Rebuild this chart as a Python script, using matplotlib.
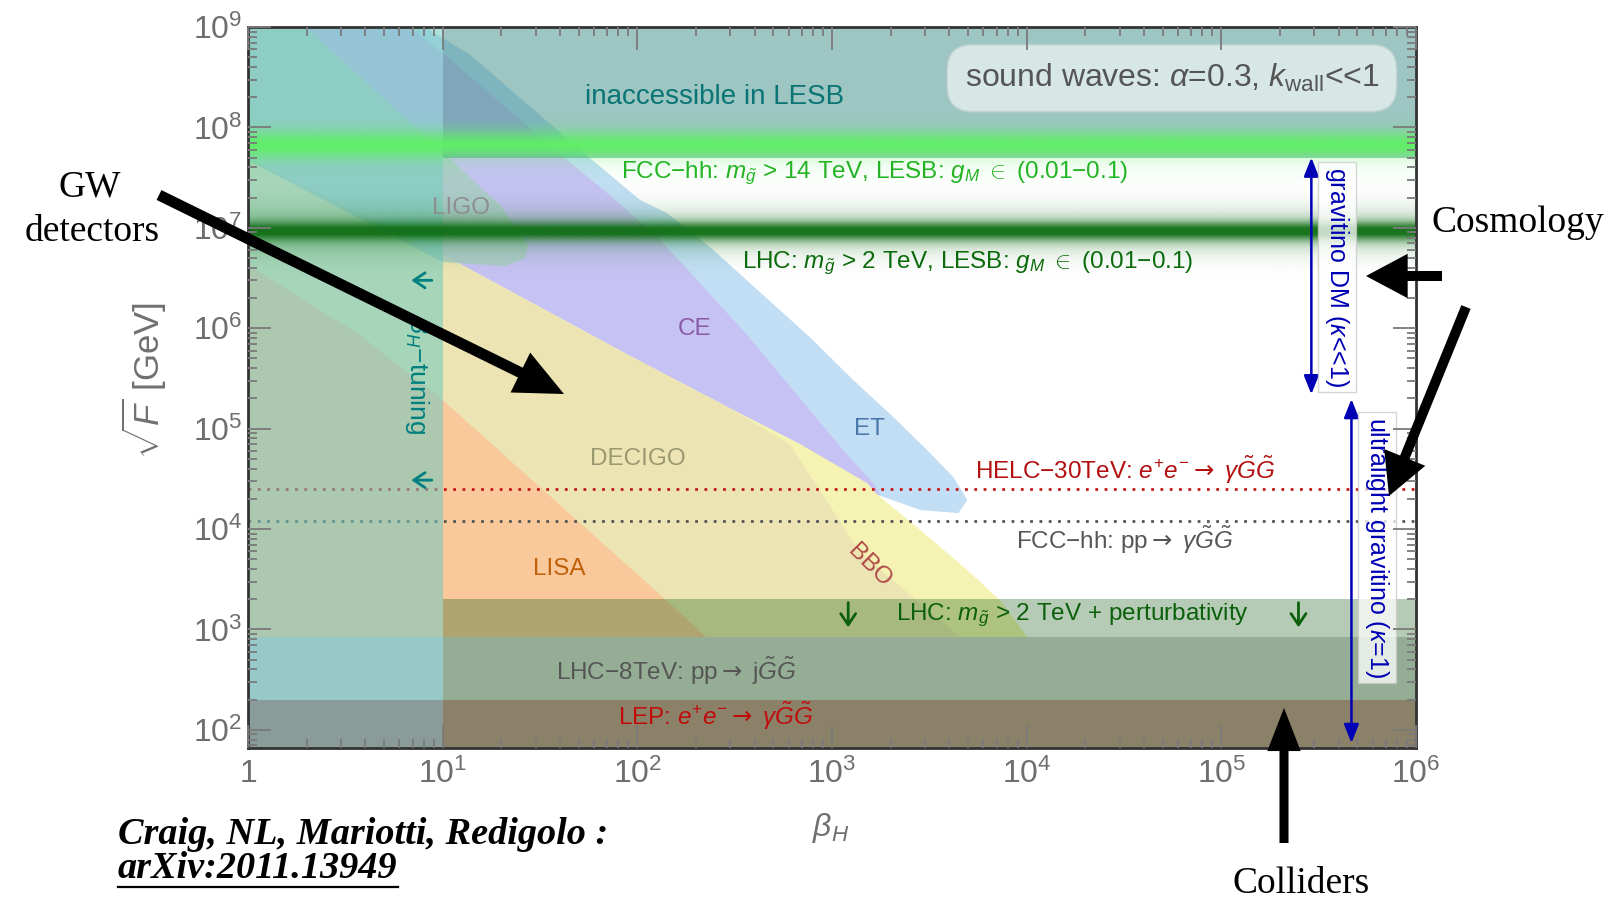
import numpy as np
import matplotlib
matplotlib.use("Agg")
import matplotlib.pyplot as plt
from matplotlib.patches import FancyArrowPatch
from matplotlib.lines import Line2D
from matplotlib.ticker import FixedLocator, LogLocator, NullFormatter

plt.rcParams['font.family'] = ['Liberation Sans', 'DejaVu Sans']
plt.rcParams['mathtext.fontset'] = 'custom'
plt.rcParams['mathtext.rm'] = 'Liberation Sans'
plt.rcParams['mathtext.it'] = 'Liberation Sans:italic'
plt.rcParams['mathtext.bf'] = 'Liberation Sans:bold'
plt.rcParams['mathtext.sf'] = 'DejaVu Sans'

# ---------------- data ----------------
beta_range = [1.0, 1.0e6]
sqrtF_range = [66.0, 1.0e9]

beta_ticks = [1, 1e1, 1e2, 1e3, 1e4, 1e5, 1e6]
beta_ticklabels = ['1', '$10^{1}$', '$10^{2}$', '$10^{3}$', '$10^{4}$', '$10^{5}$', '$10^{6}$']
sqrtF_ticks = [1e2, 1e3, 1e4, 1e5, 1e6, 1e7, 1e8, 1e9]
sqrtF_ticklabels = ['$10^{2}$', '$10^{3}$', '$10^{4}$', '$10^{5}$',
                    '$10^{6}$', '$10^{7}$', '$10^{8}$', '$10^{9}$']

# GW detector reach (beta_H, sqrt(F) [GeV]) outlines
et_beta = [8.1, 13.8, 56, 103, 142, 237, 380, 589, 800, 1285, 2062, 3084, 4196,
           4955, 4453, 2838, 1708, 687, 90, 10, 1.96]
et_sqrtF = [1e9, 5.3e8, 5.1e7, 1.9e7, 1.4e7, 6.4e6, 2.8e6, 1.3e6, 7.6e5, 3.05e5,
            1.31e5, 6.1e4, 3.3e4, 1.95e4, 1.44e4, 1.55e4, 2.2e4, 7.0e4, 5.4e5, 5.7e7, 1e9]

ce_beta = [1.96, 6.8, 10, 41.6, 77, 131, 210, 358, 589, 1142, 1629, 1770, 1590,
           687, 311, 90, 10, 10]
ce_sqrtF = [1e9, 1e9, 5.5e8, 5.1e7, 1.9e7, 7.6e6, 2.8e6, 9.0e5, 2.84e5, 6.1e4,
            2.87e4, 2.2e4, 2.1e4, 7.0e4, 1.53e5, 5.4e5, 5.4e6, 5.7e7]

ligo_beta = [1, 1.96, 10, 19.7, 27.5, 26.5, 20.9, 10, 1]
ligo_sqrtF = [1e9, 1e9, 5.7e7, 1.69e7, 6.7e6, 5.0e6, 4.17e6, 4.56e6, 4.7e7]

decigo_beta = [1, 10, 90, 311, 610, 1396, 4560, 1]
decigo_sqrtF = [4.95e7, 5.4e6, 5.4e5, 1.53e5, 6.9e4, 5.8e3, 840, 840]

bbo_beta = [1, 10, 90, 311, 687, 1517, 1708, 2838, 4955, 7311, 10070, 1]
bbo_sqrtF = [4.95e7, 5.4e6, 5.4e5, 1.53e5, 7.0e4, 2.87e4, 2.2e4, 9.8e3, 3.9e3,
             1.95e3, 840, 840]

lisa_beta = [1, 3.63, 10, 139, 226, 1]
lisa_sqrtF = [4.26e6, 8.96e5, 1.93e5, 2.0e3, 840, 840]

# constraints
beta_tuning = 10.0
lesb_limit = 5.0e7
lep_limit = 2.0e2
lhc8_limit = 8.4e2
lhc_pert_limit = 2.0e3
helc_limit = 2.5e4
fcc_limit = 1.2e4
fcc_glow_center = 6.7e7
lhc_glow_center = 9.3e6

gravitino_dm_beta = 2.9e5
gravitino_dm_range = [5.0e7, 2.2e5]
ultralight_beta = 4.66e5
ultralight_range = [1.97e5, 74.0]

# small direction markers
tuning_arrow_beta = [8.8, 6.9]
tuning_arrow_sqrtF = [3.0e6, 3.07e4]
pert_arrow_beta = [1211, 2.49e5]
pert_arrow_sqrtF = [1.85e3, 1.05e3]

# ---------------- figure ----------------
W, H = 1613, 900
fig = plt.figure(figsize=(W / 100, H / 100), dpi=100)
ax = fig.add_axes([248 / W, 1 - 748 / H, 1168 / W, 721 / H])
ax.set_xscale('log')
ax.set_yscale('log')
ax.set_xlim(beta_range)
ax.set_ylim(sqrtF_range)
ax.set_autoscale_on(False)


def region(bx, fy, color, alpha=1.0, z=1.0):
    ax.fill(bx, fy, facecolor=color, edgecolor='none', alpha=alpha, zorder=z)


region(et_beta, et_sqrtF, '#c2def4', z=1.0)
region(ce_beta, ce_sqrtF, '#c6c2f3', z=1.1)
region(bbo_beta, bbo_sqrtF, '#f5f3b3', z=1.2)
region(decigo_beta, decigo_sqrtF, '#ece5b3', z=1.3)
region(lisa_beta, lisa_sqrtF, '#f9c99b', z=1.4)
region(ligo_beta, ligo_sqrtF, '#aacdc3', alpha=0.85, z=1.5)

# collider band from perturbativity (beta_H > 10 only)
ax.fill_between([beta_tuning, beta_range[1]], lhc8_limit, lhc_pert_limit,
                color='#004f00', alpha=0.29, lw=0, zorder=2.0)
# inaccessible in LESB
ax.fill_between([beta_tuning, beta_range[1]], lesb_limit, sqrtF_range[1],
                color='#3c8c87', alpha=0.5, lw=0, zorder=2.3)

# future collider reach
ax.axhline(helc_limit, color='#c41a1a', lw=2.0, ls=(0, (1.0, 2.35)), zorder=2.5)
ax.axhline(fcc_limit, color='#555555', lw=2.0, ls=(0, (1.0, 2.35)), zorder=2.5)

# beta_H tuning strip
ax.fill_between([beta_range[0], beta_tuning], sqrtF_range[0], sqrtF_range[1],
                color='#6ec8be', alpha=0.55, lw=0, zorder=3)

# existing collider bounds (shaded differently inside the tuning strip)
ax.fill_between([beta_range[0], beta_tuning], lep_limit, lhc8_limit,
                color='#97c9c9', lw=0, zorder=3.1)
ax.fill_between([beta_tuning, beta_range[1]], lep_limit, lhc8_limit,
                color='#95ad95', lw=0, zorder=3.1)
ax.fill_between([beta_range[0], beta_tuning], sqrtF_range[0], lep_limit,
                color='#8a9c9a', lw=0, zorder=3.1)
ax.fill_between([beta_tuning, beta_range[1]], sqrtF_range[0], lep_limit,
                color='#8b8068', lw=0, zorder=3.1)

# glowing gluino-mass lines
ny, nx = 1500, 600
ly = np.linspace(np.log10(sqrtF_range[0]), np.log10(sqrtF_range[1]), ny)[:, None]
lxc = (np.arange(nx) + 0.5) / nx * np.log10(beta_range[1] / beta_range[0])
right = (10 ** lxc >= beta_tuning)[None, :]
lc1 = np.log10(fcc_glow_center)
llim = np.log10(lesb_limit)
a1 = 0.95 * np.exp(-0.5 * ((ly - lc1) / 0.1) ** 2)
a1_right = np.where(ly >= llim, a1, 0.22 * np.exp(-(llim - ly) / 0.1))
alpha1 = np.where(right, a1_right, a1)
img1 = np.zeros((ny, nx, 4))
img1[..., 0], img1[..., 1], img1[..., 2] = 95 / 255, 240 / 255, 100 / 255
img1[..., 3] = alpha1
ax.imshow(img1, extent=(0, 1, 0, 1), transform=ax.transAxes, origin='lower',
          aspect='auto', interpolation='bilinear', zorder=4)

lc2 = np.log10(lhc_glow_center)
a2 = np.clip(0.75 * np.exp(-0.5 * ((ly - lc2) / 0.065) ** 2)
             + 0.28 * np.exp(-0.5 * ((ly - lc2) / 0.16) ** 2), 0, 0.96)
img2 = np.zeros((ny, nx, 4))
img2[..., 0], img2[..., 1], img2[..., 2] = 15 / 255, 110 / 255, 20 / 255
img2[..., 3] = np.broadcast_to(a2, (ny, nx))
ax.imshow(img2, extent=(0, 1, 0, 1), transform=ax.transAxes, origin='lower',
          aspect='auto', interpolation='bilinear', zorder=4.1)
ax.set_xlim(beta_range)
ax.set_ylim(sqrtF_range)

# gravitino regimes
blue = '#0000b4'
for xb, (y0, y1) in [(gravitino_dm_beta, gravitino_dm_range),
                     (ultralight_beta, ultralight_range)]:
    ax.annotate('', xy=(xb, y1), xytext=(xb, y0),
                arrowprops=dict(arrowstyle='<|-|>,head_length=0.75,head_width=0.3',
                                color=blue, lw=1.8, mutation_scale=15,
                                shrinkA=0, shrinkB=0), zorder=5)
vbox = dict(boxstyle='square,pad=0.2', fc='white', ec='#c8c8c8', alpha=0.75, lw=1)
ax.text(3.94e5, 3.24e6, r'gravitino DM ($\kappa$<<1)', rotation=-90, ha='center',
        va='center', color=blue, fontsize=18, bbox=vbox, zorder=5.5)
ax.text(6.33e5, 6.5e3, r'ultralight gravitino ($\kappa$=1)', rotation=-90, ha='center',
        va='center', color=blue, fontsize=18, bbox=vbox, zorder=5.5)

# small direction markers
marker_style = dict(arrowstyle='->,head_length=0.45,head_width=0.3', lw=2.0,
                    mutation_scale=18, shrinkA=0, shrinkB=0)
for yb in tuning_arrow_sqrtF:
    ax.annotate('', xy=(tuning_arrow_beta[1], yb), xytext=(tuning_arrow_beta[0], yb),
                arrowprops=dict(color='#00807f', **marker_style), zorder=6)
for xb in pert_arrow_beta:
    ax.annotate('', xy=(xb, pert_arrow_sqrtF[1]), xytext=(xb, pert_arrow_sqrtF[0]),
                arrowprops=dict(color='#0c600c', **marker_style), zorder=6)

# labels inside the plot
fs = 17.5
arrow_r = r'$\mathsf{\rightarrow}$'
ax.text(248, 2.0e8, 'inaccessible in LESB', color='#0a7575', fontsize=20,
        ha='center', va='center', zorder=6)
ax.text(0.791, 0.929, r'sound waves: $\alpha$=0.3, $k_{\rm wall}$<<1', transform=ax.transAxes,
        ha='center', va='center', fontsize=23, color='#555555', zorder=6,
        bbox=dict(boxstyle='round,pad=0.55,rounding_size=0.8', fc='white',
                  ec='#b8cccc', alpha=0.6, lw=1.5))
ax.text(1660, 3.5e7, r'FCC−hh: $m_{\tilde{g}}$ > 14 TeV, LESB: $g_M$ $\in$ (0.01−0.1)',
        color='#22b422', fontsize=fs, ha='center', va='center', zorder=6)
ax.text(4980, 4.46e6, r'LHC: $m_{\tilde{g}}$ > 2 TeV, LESB: $g_M$ $\in$ (0.01−0.1)',
        color='#0b6b0b', fontsize=fs, ha='center', va='center', zorder=6)
ax.text(12.4, 1.57e7, 'LIGO', color='#8e8e8e', fontsize=fs, ha='center', va='center', zorder=6)
ax.text(196, 9.8e5, 'CE', color='#8a5ca8', fontsize=fs, ha='center', va='center', zorder=6)
ax.text(1553, 9.9e4, 'ET', color='#4a78a8', fontsize=fs, ha='center', va='center', zorder=6)
ax.text(101, 4.98e4, 'DECIGO', color='#9a9870', fontsize=fs, ha='center', va='center', zorder=6)
ax.text(39.6, 4.0e3, 'LISA', color='#c0600a', fontsize=fs, ha='center', va='center', zorder=6)
ax.text(1553, 4.3e3, 'BBO', color='#b04848', fontsize=fs, rotation=-45,
        ha='center', va='center', zorder=6)
ax.text(3.19e4, 3.87e4, r'HELC−30TeV: $e^{+}e^{-}$' + arrow_r + r' $\gamma\tilde{G}\tilde{G}$',
        color='#b30f0f', fontsize=fs, ha='center', va='center', zorder=6)
ax.text(3.17e4, 7.8e3, r'FCC−hh: pp' + arrow_r + r' $\gamma\tilde{G}\tilde{G}$', color='#555555',
        fontsize=fs, ha='center', va='center', zorder=6)
ax.text(1.72e4, 1.39e3, r'LHC: $m_{\tilde{g}}$ > 2 TeV + perturbativity', color='#0c600c',
        fontsize=fs, ha='center', va='center', zorder=6)
ax.text(158, 385, r'LHC−8TeV: pp' + arrow_r + r' j$\tilde{G}\tilde{G}$', color='#555555',
        fontsize=fs, ha='center', va='center', zorder=6)
ax.text(254, 137, r'LEP: $e^{+}e^{-}$' + arrow_r + r' $\gamma\tilde{G}\tilde{G}$', color='#c00c0c',
        fontsize=fs, ha='center', va='center', zorder=6)
ax.text(7.4, 3.4e5, r'$\beta_H$−tuning', color='#00807f', fontsize=19, rotation=-90,
        ha='center', va='center', zorder=6)

# axes styling
ax.xaxis.set_major_locator(FixedLocator(beta_ticks))
ax.set_xticklabels(beta_ticklabels)
ax.yaxis.set_major_locator(FixedLocator(sqrtF_ticks))
ax.set_yticklabels(sqrtF_ticklabels)
for axis in (ax.xaxis, ax.yaxis):
    axis.set_minor_locator(LogLocator(base=10, subs=np.arange(2, 10), numticks=30))
    axis.set_minor_formatter(NullFormatter())
    axis.set_zorder(7)
ax.tick_params(which='both', direction='in', top=True, right=True,
               color='#7a7a7a', width=1.3, labelcolor='#6e6e6e', labelsize=23)
ax.tick_params(which='major', length=16.5)
ax.tick_params(which='minor', length=6.5)
ax.tick_params(axis='x', pad=8)
ax.tick_params(axis='y', pad=4)
for sp in ax.spines.values():
    sp.set_color('#333333')
    sp.set_linewidth(2.0)
    sp.set_zorder(7)

fig.text(144 / W, 1 - 381 / H, r'$\sqrt{F}$ [GeV]', rotation=90, ha='center', va='center',
         color='#707070', fontsize=25)
fig.text(831 / W, 1 - 828 / H, r'$\beta_H$', ha='center', va='center',
         color='#707070', fontsize=23)

# commentary around the plot
serif = ['Liberation Serif', 'DejaVu Serif']
fig.text(90 / W, 1 - 187 / H, 'GW', family=serif, fontsize=27, ha='center', va='center')
fig.text(92 / W, 1 - 232 / H, 'detectors', family=serif, fontsize=27, ha='center', va='center')
fig.text(1518 / W, 1 - 223 / H, 'Cosmology', family=serif, fontsize=27, ha='center', va='center')
fig.text(1301 / W, 1 - 884 / H, 'Colliders', family=serif, fontsize=27, ha='center', va='center')
fig.text(118 / W, 1 - 834 / H, 'Craig, NL, Mariotti, Redigolo :', family=serif, fontsize=27.5,
         weight='bold', style='italic', ha='left', va='center')
arx = fig.text(118 / W, 1 - 868 / H, 'arXiv:2011.13949', family=serif, fontsize=27.5,
               weight='bold', style='italic', ha='left', va='center')


def fig_arrow(p0, p1, tail, hw, hl):
    a = FancyArrowPatch((p0[0] / W, 1 - p0[1] / H), (p1[0] / W, 1 - p1[1] / H),
                        transform=fig.transFigure, mutation_scale=1,
                        arrowstyle=f'simple,tail_width={tail},head_width={hw},head_length={hl}',
                        color='black', lw=0, shrinkA=0, shrinkB=0, zorder=10)
    fig.add_artist(a)


fig_arrow((159, 195), (564, 394), 7.9, 32, 35)
fig_arrow((1442, 276), (1366, 276), 7.2, 32, 30)
fig_arrow((1466, 307), (1389, 496), 7.2, 32, 30)
fig_arrow((1284, 843), (1284, 708), 6.5, 24, 31)

fig.canvas.draw()
bb = arx.get_window_extent(fig.canvas.get_renderer())
fig.add_artist(Line2D([bb.x0 / W, bb.x1 / W], [(bb.y0 - 1) / H, (bb.y0 - 1) / H],
                      transform=fig.transFigure, color='black', lw=1.6))

fig.savefig('out.png', dpi=100)
